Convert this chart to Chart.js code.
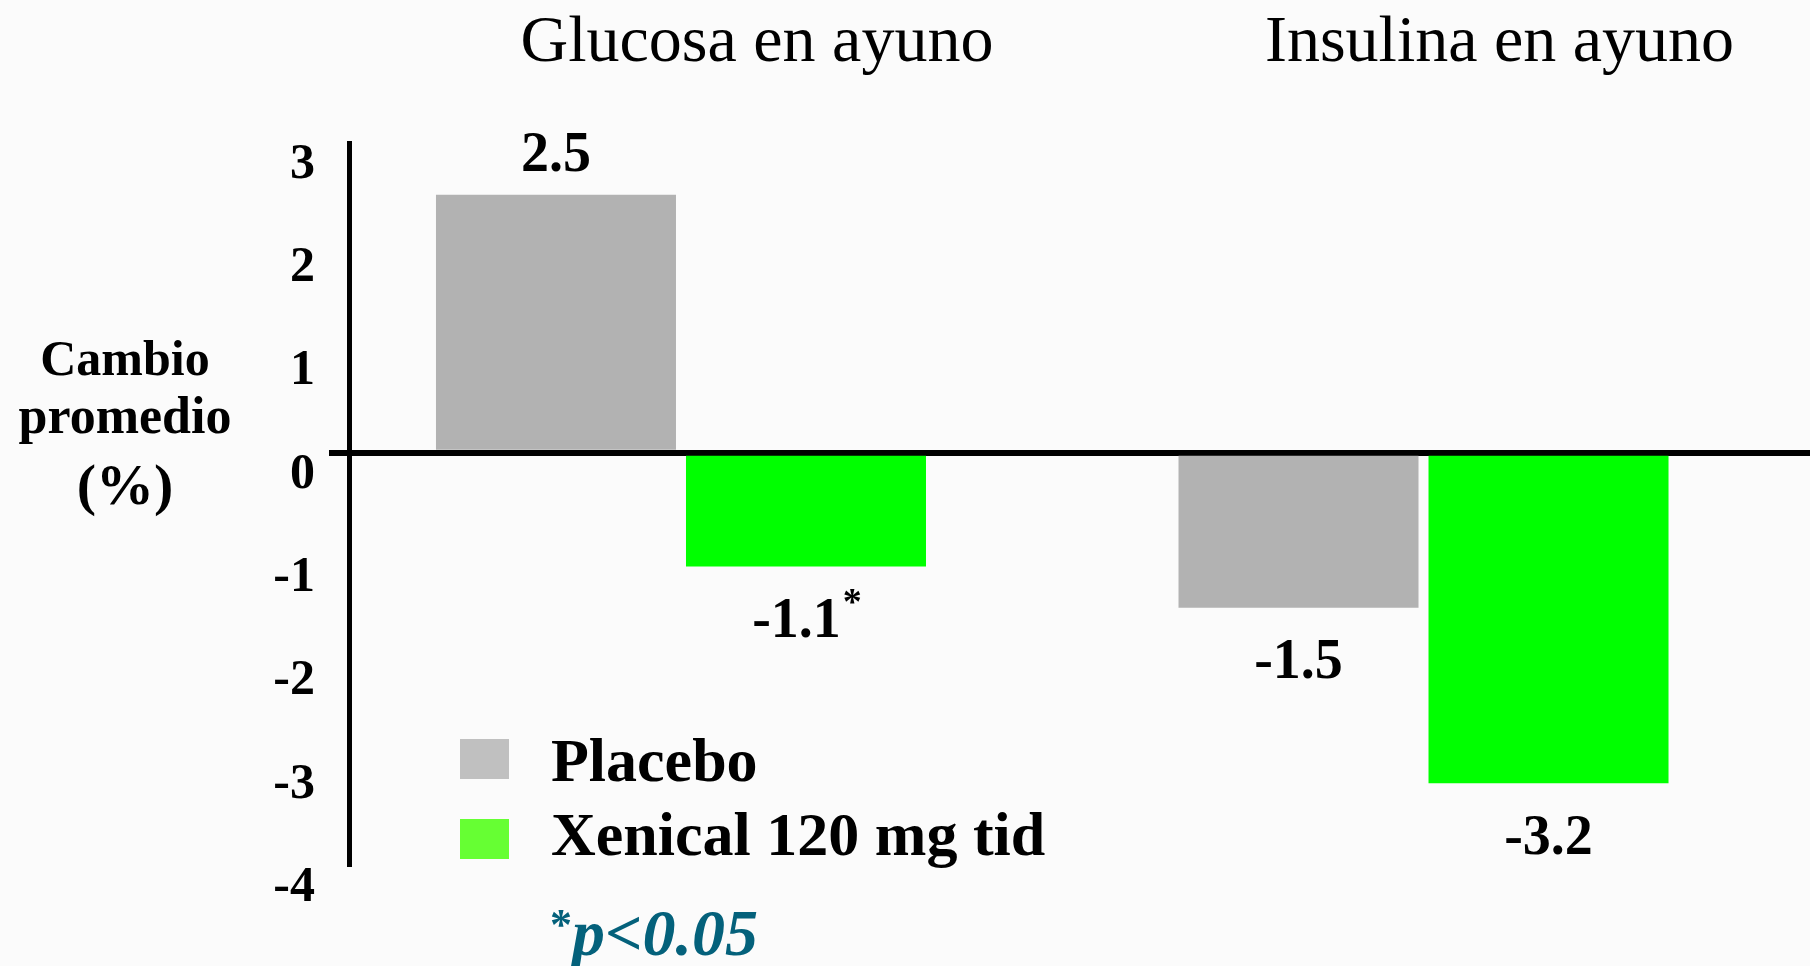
<!DOCTYPE html>
<html>
<head>
<meta charset="utf-8">
<script src="https://cdn.jsdelivr.net/npm/chart.js@4.4.1/dist/chart.umd.min.js"></script>
<style>
  html, body { margin: 0; padding: 0; background: #fbfbfb; }
  #wrap { position: relative; width: 1810px; height: 966px; overflow: hidden; }
  #chart { position: absolute; left: 0; top: 0; }
  .txt { position: absolute; font-family: 'Liberation Serif', serif; color: #000; white-space: nowrap; }
  .ytitle { font-weight: bold; font-size: 50px; width: 250px; text-align: center; left: 0; line-height: 1; }
  .leg { font-weight: bold; font-size: 62px; line-height: 1; left: 551px; }
  .sw { position: absolute; left: 460px; width: 49px; height: 40px; }
  .note { font-weight: bold; font-style: italic; font-size: 66px; color: #04617b; left: 550px; top: 900px; line-height: 1; }
  .note sup { font-size: 44px; vertical-align: 16px; font-style: normal; }
</style>
</head>
<body>
<div id="wrap">
  <canvas id="chart" width="1810" height="966"></canvas>

  <div class="txt ytitle" style="top:333px;">Cambio</div>
  <div class="txt ytitle" style="top:390px; font-size:52px;">promedio</div>
  <div class="txt ytitle" style="top:456px; font-size:58px;">(%)</div>

  <div class="sw" style="top:739px; background:#c0c0c0;"></div>
  <div class="txt leg" style="top:729px;">Placebo</div>
  <div class="sw" style="top:819px; background:#66ff33;"></div>
  <div class="txt leg" style="top:803px;">Xenical 120 mg tid</div>

  <div class="txt note"><sup>*</sup>p&lt;0.05</div>
</div>

<script>
// data
const categories = ['Glucosa en ayuno', 'Insulina en ayuno'];
const seriesNames = ['Placebo', 'Xenical 120 mg tid'];
const placeboValues = [2.5, -1.5];
const xenicalValues = [-1.1, -3.2];
const placeboLabels = ['2.5', '-1.5'];
const xenicalLabels = ['-1.1', '-3.2'];
const xenicalMarks = ['*', ''];   // significance marks
const yTicks = [3, 2, 1, 0, -1, -2, -3, -4];

const serif = "'Liberation Serif', serif";

// value labels at the end of each bar
const valueLabels = {
  id: 'valueLabels',
  afterDatasetsDraw(chart) {
    const ctx = chart.ctx;
    const texts = [placeboLabels, xenicalLabels];
    const marks = [['', ''], xenicalMarks];
    ctx.save();
    ctx.fillStyle = '#000';
    ctx.textBaseline = 'middle';
    chart.data.datasets.forEach((ds, di) => {
      const meta = chart.getDatasetMeta(di);
      meta.data.forEach((bar, i) => {
        const v = ds.data[i].y;
        const y = v >= 0 ? bar.y - 38 : bar.y + 56;
        const main = texts[di][i];
        const mk = marks[di][i];
        ctx.font = 'bold 56px ' + serif;
        const wMain = ctx.measureText(main).width;
        ctx.font = 'bold 38px ' + serif;
        const wMk = mk ? ctx.measureText(mk).width : 0;
        const x0 = bar.x - (wMain + wMk) / 2;
        ctx.font = 'bold 56px ' + serif;
        ctx.textAlign = 'left';
        ctx.fillText(main, x0, y);
        if (mk) {
          ctx.font = 'bold 38px ' + serif;
          ctx.fillText(mk, x0 + wMain + 2, y - 18);
        }
      });
    });
    ctx.restore();
  }
};

function toPoints(vals) {
  return vals.map((v, i) => ({ x: i, y: v }));
}

const ctx = document.getElementById('chart').getContext('2d');
new Chart(ctx, {
  type: 'bar',
  data: {
    datasets: [
      {
        label: seriesNames[0],
        data: toPoints(placeboValues),
        backgroundColor: '#b2b2b2',
        borderWidth: 0
      },
      {
        label: seriesNames[1],
        data: toPoints(xenicalValues),
        backgroundColor: '#00ff00',
        borderWidth: 0
      }
    ]
  },
  options: {
    responsive: false,
    animation: false,
    categoryPercentage: 0.6734,
    barPercentage: 0.96,
    layout: { padding: { left: 0, right: 0, top: 0, bottom: 100 } },
    plugins: {
      legend: { display: false },
      tooltip: { enabled: false },
      title: { display: false }
    },
    scales: {
      x: {
        type: 'linear',
        position: 'top',
        offset: false,
        min: -0.4471,
        max: 1.5205,
        afterBuildTicks: s => { s.ticks = categories.map((c, i) => ({ value: i })); },
        afterFit: s => { s.height = 143; },
        grid: { display: false, drawTicks: false, offset: false },
        border: { display: false },
        ticks: {
          callback: (v) => categories[v],
          font: { family: serif, size: 66 },
          color: '#000',
          padding: 60,
          labelOffset: 76,
          maxRotation: 0,
          autoSkip: false
        }
      },
      y: {
        min: -4,
        max: 3,
        z: 1,
        afterBuildTicks: s => { s.ticks = yTicks.map(v => ({ value: v })); },
        afterFit: s => { s.width = 349; },
        border: { display: true, color: '#000', width: 5 },
        grid: {
          drawOnChartArea: true,
          drawTicks: true,
          tickLength: 20,
          color: c => (c.tick && c.tick.value === 0) ? '#000' : 'rgba(0,0,0,0)',
          tickColor: c => (c.tick && c.tick.value === 0) ? '#000' : 'rgba(0,0,0,0)',
          lineWidth: c => (c.tick && c.tick.value === 0) ? 6 : 1
        },
        ticks: {
          font: { family: serif, size: 50, weight: 'bold' },
          color: '#000',
          padding: 14,
          labelOffset: 22
        }
      }
    }
  },
  plugins: [valueLabels]
});
</script>
</body>
</html>
